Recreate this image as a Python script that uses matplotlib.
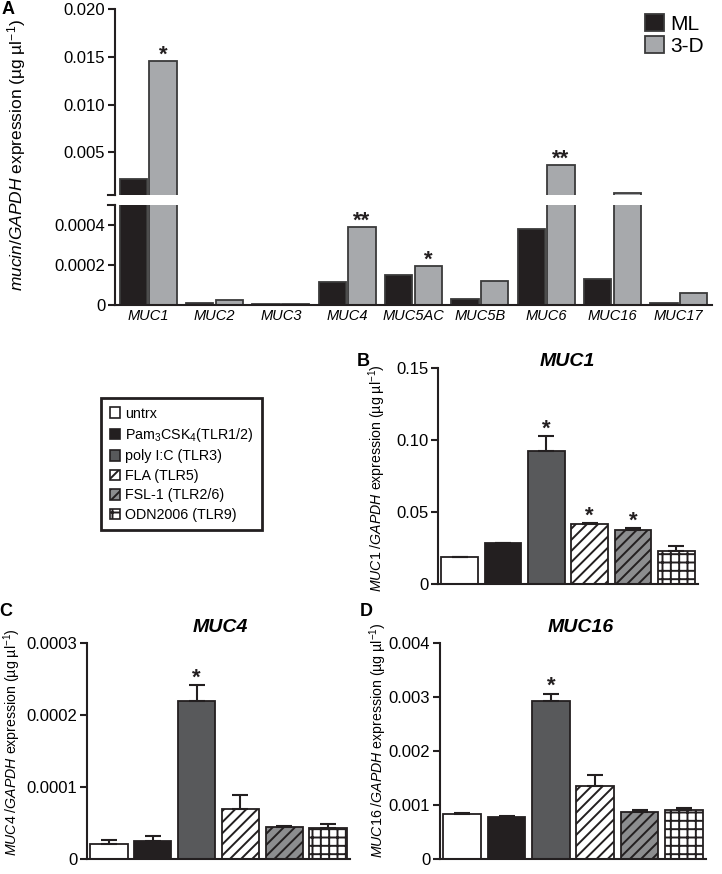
import numpy as np
import matplotlib
matplotlib.use("Agg")
import matplotlib.pyplot as plt
from matplotlib.patches import Patch

plt.rcParams['font.family'] = ['Liberation Sans', 'DejaVu Sans']
plt.rcParams['mathtext.fontset'] = 'custom'
plt.rcParams['mathtext.rm'] = 'Liberation Sans'
plt.rcParams['mathtext.it'] = 'Liberation Sans:italic'
plt.rcParams['mathtext.bf'] = 'Liberation Sans:bold'
plt.rcParams['hatch.linewidth'] = 1.4

# Panel A data: mucin/GAPDH expression, ML vs 3-D
mucins = ['MUC1', 'MUC2', 'MUC3', 'MUC4', 'MUC5AC', 'MUC5B', 'MUC6', 'MUC16', 'MUC17']
ml_vals = [0.00216, 0.00001, 0.000005, 0.000117, 0.00015, 0.000028, 0.000378, 0.00013, 0.00001]
d3_vals = [0.0146, 0.000025, 0.000005, 0.00039, 0.000197, 0.000122, 0.00363, 0.00068, 0.000058]
a_stars = ['*', '', '', '**', '*', '', '**', '', '']

# Panels B-D data: TLR agonist treatments
treatments = ['untrx', r'Pam$_3$CSK$_4$(TLR1/2)', 'poly I:C (TLR3)', 'FLA (TLR5)',
              'FSL-1 (TLR2/6)', 'ODN2006 (TLR9)']
muc1_vals = [0.0188, 0.0285, 0.0926, 0.0417, 0.0379, 0.0233]
muc1_err = [0.0004, 0.0004, 0.0099, 0.0009, 0.0008, 0.0033]
muc1_stars = ['', '', '*', '*', '*', '']
muc4_vals = [0.0000212, 0.0000254, 0.0002197, 0.0000692, 0.0000447, 0.0000433]
muc4_err = [0.0000055, 0.0000069, 0.0000217, 0.0000198, 0.0000013, 0.000006]
muc4_stars = ['', '', '*', '', '', '']
muc16_vals = [0.00084, 0.00079, 0.00293, 0.00136, 0.00088, 0.00091]
muc16_err = [0.00002, 0.00001, 0.00013, 0.00019, 0.00003, 0.00003]
muc16_stars = ['', '', '*', '', '', '']

BLACK = '#231f20'
fills = ['white', BLACK, '#58595b', 'white', '#8c8d8f', 'white']
hatches = [None, None, None, '///', '///', '++']

W, H = 722, 874
fig = plt.figure(figsize=(W / 100, H / 100), dpi=100)


def px_axes(l, t, r, b):
    return fig.add_axes([l / W, 1 - b / H, (r - l) / W, (b - t) / H])


def style(ax):
    for s in ['top', 'right']:
        ax.spines[s].set_visible(False)
    for s in ['left', 'bottom']:
        ax.spines[s].set_linewidth(1.5)
        ax.spines[s].set_color(BLACK)
    ax.tick_params(axis='y', length=5, width=1.5, color=BLACK, labelsize=12, pad=2)
    ax.tick_params(axis='x', length=0)


# ---- Panel A (broken y axis) ----
axt = px_axes(115, 9.3, 712, 195)
axb = px_axes(115, 205, 712, 305)
x = np.arange(len(mucins))
bw = 0.41
for ax in (axt, axb):
    ax.bar(x - 0.225, ml_vals, bw, color=BLACK, edgecolor='#3a3a3a', linewidth=1.3, label='ML')
    ax.bar(x + 0.225, d3_vals, bw, color='#a7a9ac', edgecolor='#3a3a3a', linewidth=1.3, label='3-D')
    ax.set_xlim(-0.5, 8.5)
    style(ax)

axt.set_ylim(0.0005, 0.020)
axt.spines['bottom'].set_visible(False)
axt.set_xticks([])
axt.set_yticks([0.005, 0.010, 0.015, 0.020])
axt.set_yticklabels(['0.005', '0.010', '0.015', '0.020'])

axb.set_ylim(0, 0.0005)
axb.set_yticks([0, 0.0002, 0.0004])
axb.set_yticklabels(['0', '0.0002', '0.0004'])
axb.set_xticks(x)
axb.set_xticklabels(mucins, fontstyle='italic', fontsize=10.5)
axb.tick_params(axis='x', pad=3)

# break marks on the y axis
axt.plot([-0.012, 0.0], [0, 0], transform=axt.transAxes, color=BLACK, lw=1.5, clip_on=False)
axb.plot([-0.012, 0.0], [1, 1], transform=axb.transAxes, color=BLACK, lw=1.5, clip_on=False)

for i, s in enumerate(a_stars):
    if not s:
        continue
    v = d3_vals[i]
    ax = axt if v > 0.0005 else axb
    ax.annotate(s, (x[i] + 0.225, v), xytext=(0, 0), textcoords='offset points',
                ha='center', va='baseline', fontsize=16, fontweight='bold', color=BLACK,
                annotation_clip=False)

axt.legend(loc='upper right', bbox_to_anchor=(1.0, 1.02), frameon=False, fontsize=15,
           handlelength=0.9, handleheight=0.9, handletextpad=0.3, labelspacing=0.1,
           borderaxespad=0)

fig.text(17 / W, 1 - 155 / H, r'$\it{mucin/GAPDH}$ expression (µg µl$^{-1}$)',
         rotation=90, ha='center', va='center', fontsize=12.5)
fig.text(8 / W, 1 - 9 / H, 'A', fontsize=13, fontweight='bold', ha='center', va='center')


# ---- Panels B, C, D ----
def treat_panel(ax, vals, errs, stars, ymax, ticks, labels):
    xt = np.arange(len(vals))
    ax.bar(xt, vals, 0.85, color=fills, edgecolor=BLACK, linewidth=1.3, hatch=hatches)
    ax.errorbar(xt, vals, yerr=[np.zeros(len(errs)), errs], fmt='none', ecolor=BLACK,
                elinewidth=1.5, capsize=5.5, capthick=1.5, zorder=1)
    for i, s in enumerate(stars):
        if s:
            ax.annotate(s, (xt[i], vals[i] + errs[i]), xytext=(0, 1), textcoords='offset points',
                        ha='center', va='baseline', fontsize=16, fontweight='bold', color=BLACK)
    ax.set_xlim(-0.5, len(vals) - 0.5)
    ax.set_ylim(0, ymax)
    ax.set_yticks(ticks)
    ax.set_yticklabels(labels)
    ax.set_xticks([])
    style(ax)


axB = px_axes(438, 368, 698, 584.3)
treat_panel(axB, muc1_vals, muc1_err, muc1_stars, 0.15, [0, 0.05, 0.10, 0.15],
            ['0', '0.05', '0.10', '0.15'])
axC = px_axes(87, 642.7, 350, 859.3)
treat_panel(axC, muc4_vals, muc4_err, muc4_stars, 0.0003, [0, 0.0001, 0.0002, 0.0003],
            ['0', '0.0001', '0.0002', '0.0003'])
axD = px_axes(440, 642.7, 706, 859.3)
treat_panel(axD, muc16_vals, muc16_err, muc16_stars, 0.004, [0, 0.001, 0.002, 0.003, 0.004],
            ['0', '0.001', '0.002', '0.003', '0.004'])

title_kw = dict(fontsize=14, fontweight='bold', fontstyle='italic', ha='center', va='center')
fig.text(567 / W, 1 - 362 / H, 'MUC1', **title_kw)
fig.text(220 / W, 1 - 628 / H, 'MUC4', **title_kw)
fig.text(581 / W, 1 - 628 / H, 'MUC16', **title_kw)

fig.text(377 / W, 1 - 478 / H, r'$\it{MUC1\ /GAPDH}$ expression (µg µl$^{-1}$)',
         rotation=90, ha='center', va='center', fontsize=10.2)
fig.text(12 / W, 1 - 742 / H, r'$\it{MUC4\ /GAPDH}$ expression (µg µl$^{-1}$)',
         rotation=90, ha='center', va='center', fontsize=10.2)
fig.text(378 / W, 1 - 740 / H, r'$\it{MUC16\ /GAPDH}$ expression (µg µl$^{-1}$)',
         rotation=90, ha='center', va='center', fontsize=10.2)

fig.text(363 / W, 1 - 361 / H, 'B', fontsize=13, fontweight='bold', ha='center', va='center')
fig.text(6 / W, 1 - 612 / H, 'C', fontsize=13, fontweight='bold', ha='center', va='center')
fig.text(366 / W, 1 - 612 / H, 'D', fontsize=13, fontweight='bold', ha='center', va='center')

# treatment legend box
handles = [Patch(facecolor=f, edgecolor=BLACK, hatch=h, linewidth=1.2) for f, h in zip(fills, hatches)]
leg = fig.legend(handles, treatments, loc='upper left', bbox_to_anchor=(101 / W, 1 - 398 / H),
                 fontsize=10.3, frameon=True, fancybox=False, edgecolor=BLACK, framealpha=1,
                 handlelength=0.75, handleheight=0.75, handletextpad=0.35, labelspacing=0.38,
                 borderpad=0.6, borderaxespad=0)
leg.get_frame().set_linewidth(2)

fig.savefig('out.png', dpi=100)
